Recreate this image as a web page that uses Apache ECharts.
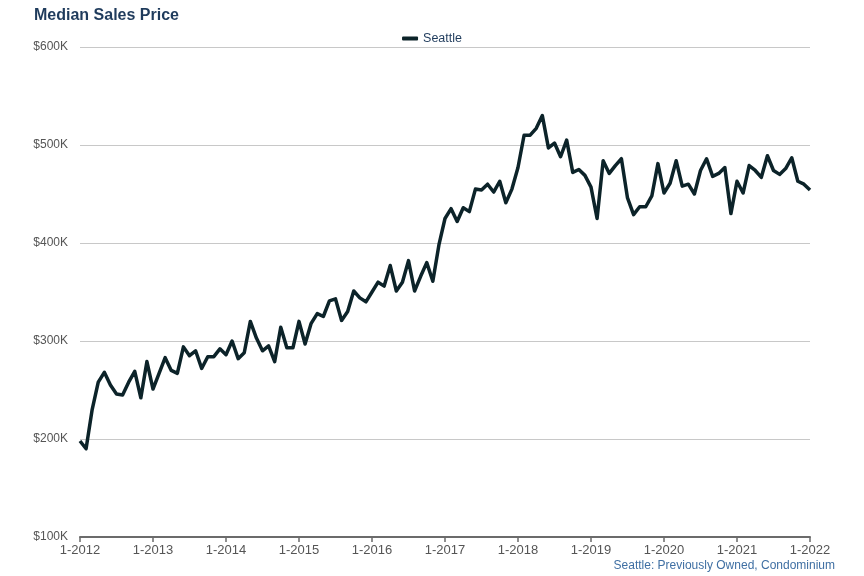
<!DOCTYPE html>
<html>
<head>
<meta charset="utf-8">
<script src="https://cdn.jsdelivr.net/npm/echarts@6/dist/echarts.min.js"></script>
<style>html,body{margin:0;padding:0;background:#fff;}#c{width:864px;height:576px;}</style>
</head>
<body>
<div id="c"></div>
<script>
const seriesName = "Seattle";
const startYear = 2012;
const endYear = 2022;
// Monthly median sales price (K$), Jan 2012 .. Jan 2022
const seattle = [
  198,190,230,258,268,255,246,245,258,269,242,279,
  251,267,283,270,267,294,285,290,272,284,284,292,
  286,300,282,288,320,303,290,295,279,314,293,293,
  320,297,318,328,325,341,343,321,330,351,344,340,
  350,360,356,377,351,360,382,351,366,380,361,398,
  425,435,422,436,432,455,454,460,452,463,441,455,
  477,510,510,517,530,497,502,488,505,472,475,469,
  457,425,484,471,479,486,446,429,437,437,448,481,
  451,461,484,458,460,450,474,486,468,471,477,430,
  463,451,479,474,467,489,474,470,476,487,463,460,
  454
];
const categories = [];
for (let y = startYear; y <= endYear; y++) {
  for (let m = 1; m <= 12; m++) {
    if (y === endYear && m > 1) break;
    categories.push(m + "-" + y);
  }
}
const yTicks = [100, 200, 300, 400, 500, 600];

const chart = echarts.init(document.getElementById('c'), null, {renderer: 'canvas'});
chart.setOption({
  animation: false,
  backgroundColor: '#ffffff',
  title: {
    text: 'Median Sales Price',
    left: 29, top: 3,
    textStyle: {fontFamily: 'Liberation Sans, Arial, sans-serif', fontSize: 16, fontWeight: 'bold', color: '#1f3b5c'}
  },
  legend: {
    data: [seriesName],
    top: 27, left: 'center',
    icon: 'roundRect', itemWidth: 16, itemHeight: 4, itemGap: 6,
    textStyle: {fontFamily: 'Liberation Sans, Arial, sans-serif', fontSize: 12.5, color: '#1f3b5c'}
  },
  graphic: [{
    type: 'text', right: 29, top: 560,
    style: {text: 'Seattle: Previously Owned, Condominium', fill: '#3f6fa3', font: '12px Liberation Sans, Arial, sans-serif'}
  }],
  grid: {left: 80, right: 54, top: 47, bottom: 39},
  xAxis: {
    type: 'category',
    data: categories,
    boundaryGap: false,
    axisLine: {show: true, lineStyle: {color: '#6b6b6b', width: 2}},
    axisTick: {show: true, length: 5, interval: (i) => i % 12 === 0, lineStyle: {color: '#6b6b6b', width: 1.5}},
    axisLabel: {interval: (i) => i % 12 === 0, color: '#555', fontSize: 13, fontFamily: 'Liberation Sans Narrow, Liberation Sans, Arial, sans-serif', margin: 7},
    splitLine: {show: false}
  },
  yAxis: {
    type: 'value',
    min: yTicks[0], max: yTicks[yTicks.length - 1], interval: 100,
    axisLine: {show: false},
    axisTick: {show: false},
    axisLabel: {formatter: (v) => '$' + v + 'K', color: '#555', fontSize: 12, fontFamily: 'Liberation Sans, Arial, sans-serif', margin: 12},
    splitLine: {lineStyle: {color: '#c8c8c8', width: 1}}
  },
  series: [{
    name: seriesName,
    type: 'line',
    data: seattle,
    showSymbol: false,
    symbol: 'none',
    lineStyle: {color: '#0c2329', width: 3.5, join: 'round'},
    itemStyle: {color: '#0c2329'}
  }]
});
</script>
</body>
</html>
